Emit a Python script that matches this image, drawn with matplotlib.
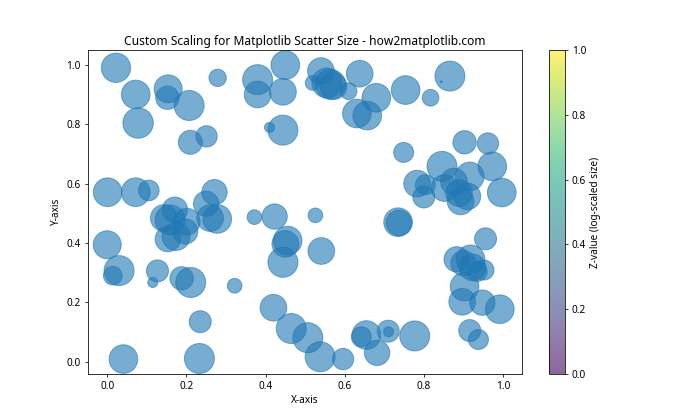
import matplotlib
matplotlib.use("Agg")
import matplotlib.pyplot as plt

plt.rcParams['font.family'] = ['Noto Sans', 'DejaVu Sans']
plt.rcParams['font.size'] = 10.3

x = [0.022, 0.072, 0.078, 0.154, 0.152, 0.207, 0.210, 0.251, 0.279, 0.380,
     0.380, 0.450, 0.444, 0.444, 0.410, 0.540, 0.519, 0.555, 0.564, 0.572,
     0.610, 0.638, 0.680, 0.631, 0.657, 0.754, 0.817, 0.866, 0.844, 0.749,
     0.903, 0.962, 0.973, 0.846, 0.783, 0.804, 0.800, 0.876, 0.916, 0.852,
     0.889, 0.910, 0.893, 0.997, 0.735, 0.737, 0.956, 0.883, 0.900, 0.918,
     0.923, 0.935, 0.952, 0.903, 0.897, 0.948, 0.992, 0.916, 0.938, 0.420,
     0.465, 0.507, 0.538, 0.596, 0.655, 0.642, 0.682, 0.710, 0.711, 0.777,
     0.372, 0.423, 0.456, 0.450, 0.444, 0.541, 0.526, 0.322, 0.001, 0.072,
     0.105, 0.000, 0.030, 0.014, 0.127, 0.115, 0.188, 0.211, 0.235, 0.233,
     0.041, 0.143, 0.171, 0.159, 0.153, 0.174, 0.197, 0.201, 0.250, 0.271,
     0.260, 0.278]
y = [0.990, 0.900, 0.804, 0.919, 0.889, 0.863, 0.739, 0.759, 0.956, 0.950,
     0.900, 0.999, 0.909, 0.780, 0.789, 0.979, 0.939, 0.939, 0.934, 0.928,
     0.911, 0.970, 0.889, 0.836, 0.829, 0.915, 0.889, 0.962, 0.943, 0.705,
     0.739, 0.735, 0.658, 0.658, 0.600, 0.596, 0.555, 0.607, 0.624, 0.585,
     0.568, 0.557, 0.540, 0.570, 0.470, 0.468, 0.414, 0.345, 0.332, 0.345,
     0.318, 0.304, 0.309, 0.253, 0.202, 0.199, 0.177, 0.105, 0.075, 0.182,
     0.112, 0.081, 0.017, 0.009, 0.090, 0.084, 0.030, 0.103, 0.101, 0.087,
     0.487, 0.489, 0.408, 0.397, 0.335, 0.373, 0.493, 0.256, 0.571, 0.571,
     0.577, 0.394, 0.307, 0.290, 0.306, 0.267, 0.281, 0.267, 0.135, 0.011,
     0.009, 0.484, 0.512, 0.478, 0.413, 0.422, 0.439, 0.472, 0.532, 0.571,
     0.484, 0.481]
sizes = [910, 869, 980, 829, 576, 952, 609, 481, 318, 952,
         752, 869, 752, 952, 106, 752, 228, 952, 952, 752,
         294, 752, 869, 869, 869, 869, 294, 952, 4, 423,
         576, 481, 869, 952, 752, 423, 512, 752, 869, 752,
         752, 752, 752, 869, 869, 679, 512, 679, 679, 869,
         752, 423, 423, 869, 752, 679, 869, 512, 423, 752,
         952, 952, 952, 481, 869, 423, 679, 512, 106, 952,
         228, 679, 869, 752, 952, 752, 228, 228, 869, 869,
         452, 829, 952, 369, 512, 106, 576, 952, 512, 952,
         869, 752, 679, 952, 679, 829, 679, 752, 679, 679,
         752, 869]

fig, ax = plt.subplots(figsize=(10, 6), dpi=70)
sc = ax.scatter(x, y, s=sizes, alpha=0.6)
cbar = fig.colorbar(sc, ax=ax, label='Z-value (log-scaled size)')
ax.set_title('Custom Scaling for Matplotlib Scatter Size - how2matplotlib.com')
ax.set_xlabel('X-axis')
ax.set_ylabel('Y-axis')
fig.savefig('out.png', dpi=70)
